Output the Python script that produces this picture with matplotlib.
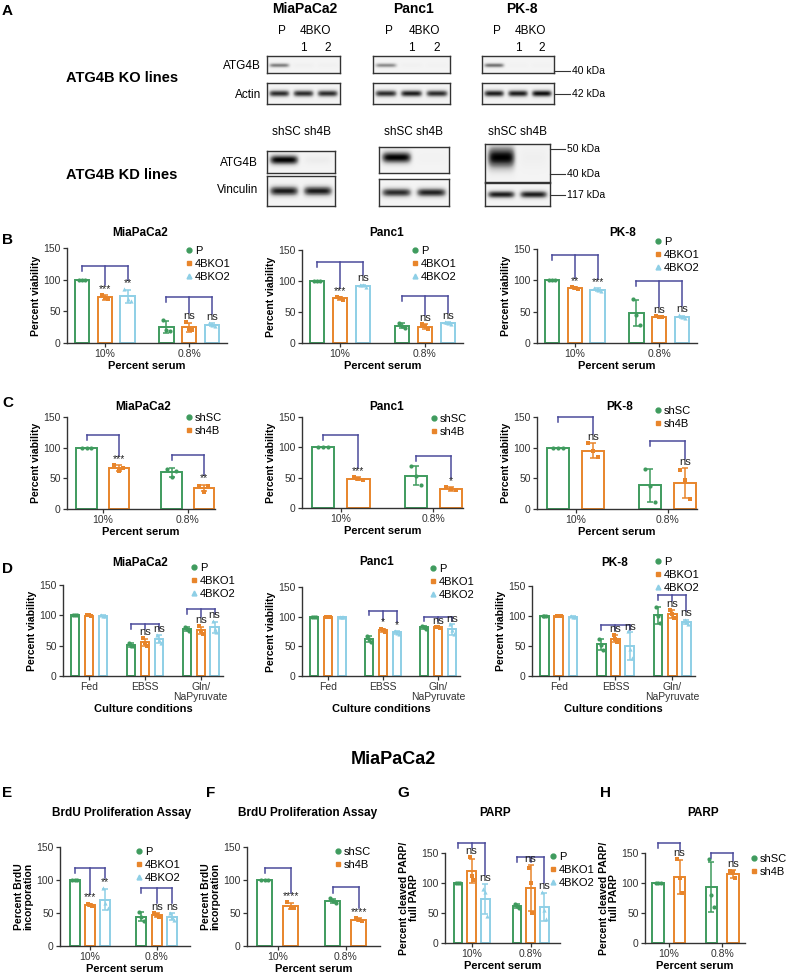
import numpy as np
import matplotlib.pyplot as plt
from matplotlib.lines import Line2D

plt.rcParams['font.family'] = ['Liberation Sans', 'DejaVu Sans']

W, H = 787, 976

GREEN = '#3f9b5e'
ORANGE = '#e8852b'
BLUE = '#8ecfe6'
BRACKET = '#4b4b9b'

# ---- A: western blot band levels ----
cell_lines = ['MiaPaCa2', 'Panc1', 'PK-8']
ko_atg4b = [[0.55, 0.04, 0.03], [0.5, 0.03, 0.02], [0.6, 0.02, 0.02]]
ko_actin = [[0.85, 0.85, 0.85], [0.85, 0.9, 0.85], [0.9, 0.9, 0.95]]
kd_atg4b = [[1.0, 0.06], [1.0, 0.02], [1.0, 0.04]]
kd_vinculin = [[0.9, 0.9], [0.85, 0.88], [0.9, 0.9]]

# ---- categories / series ----
serum = ['10%', '0.8%']
conditions = ['Fed', 'EBSS', 'Gln/\nNaPyruvate']
ko_names = ['P', '4BKO1', '4BKO2']
kd_names = ['shSC', 'sh4B']

# replicates: [series][group][replicate]
b_mia = [[[100, 100, 100], [36, 20, 19]], [[76, 71, 69], [33, 22, 20]], [[85, 70, 66], [31, 29, 27]]]
b_panc = [[[100, 100, 100], [33, 27, 24]], [[74, 72, 70], [30, 27, 22]], [[94, 93, 91], [34, 32, 30]]]
b_pk8 = [[[100, 100, 100], [70, 45, 28]], [[89, 88, 86], [43, 42, 41]], [[87, 85, 83], [44, 41, 40]]]
b_mia_sig = [['***', '**'], ['ns', 'ns']]
b_panc_sig = [['***', 'ns'], ['ns', 'ns']]
b_pk8_sig = [['**', '***'], ['ns', 'ns']]

c_mia = [[[100, 100, 100], [66, 52, 62]], [[72, 62, 67], [38, 28, 37]]]
c_panc = [[[100, 100, 100], [70, 52, 38]], [[51, 48, 46], [34, 31, 29]]]
c_pk8 = [[[100, 100, 100], [65, 38, 12]], [[108, 94, 84], [64, 47, 16]]]
c_mia_sig = [['***'], ['**']]
c_panc_sig = [['***'], ['*']]
c_pk8_sig = [['ns'], ['ns']]

d_mia = [[[100, 100, 100], [55, 50, 49], [80, 78, 74]],
         [[100, 100, 99], [62, 55, 50], [82, 74, 70]],
         [[100, 99, 99], [68, 60, 54], [90, 78, 72]]]
d_panc = [[[100, 100, 100], [68, 62, 58], [84, 82, 80]],
          [[100, 100, 100], [80, 77, 75], [83, 82, 81]],
          [[100, 99, 99], [76, 73, 71], [88, 78, 70]]]
d_pk8 = [[[100, 100, 100], [62, 52, 44], [115, 100, 88]],
         [[100, 100, 100], [68, 62, 56], [110, 103, 96]],
         [[100, 99, 98], [75, 45, 30], [94, 90, 86]]]
d_mia_sig = [None, ['ns', 'ns'], ['ns', 'ns']]
d_panc_sig = [None, ['*', '*'], ['ns', 'ns']]
d_pk8_sig = [None, ['ns', 'ns'], ['ns', 'ns']]

e_brdu = [[[100, 100, 100], [52, 44, 38]], [[64, 62, 60], [50, 47, 44]], [[88, 65, 58], [50, 44, 40]]]
f_brdu = [[[100, 100, 100], [72, 68, 65]], [[66, 58, 57], [42, 40, 38]]]
g_parp = [[[100, 100, 100], [65, 62, 59]], [[143, 112, 105], [125, 100, 50]], [[90, 85, 45], [85, 55, 40]]]
h_parp = [[[100, 100, 100], [140, 80, 60]], [[140, 108, 83], [120, 118, 108]]]
e_sig = [['***', '**'], ['ns', 'ns']]
f_sig = [['****'], ['****']]
g_sig = [['ns', 'ns'], ['ns', 'ns']]
h_sig = [['ns'], ['ns']]

fig = plt.figure(figsize=(W / 100, H / 100), dpi=100)


def px_rect(x0, y0, x1, y1):
    return [x0 / W, 1 - y1 / H, (x1 - x0) / W, (y1 - y0) / H]


def ftext(x, y, s, **kw):
    kw.setdefault('ha', 'center')
    kw.setdefault('va', 'center')
    fig.text(x / W, 1 - y / H, s, **kw)


def blot(rect, levels, thick=0.18, center=0.5, tail=0.0):
    ax = fig.add_axes(px_rect(*rect))
    yy = np.linspace(0, 1, 50)[:, None]
    xx = np.linspace(0, 1, 150)[None, :]
    n = len(levels)
    img = np.zeros((50, 150))
    for i, lv in enumerate(levels):
        xc = (i + 0.5) / n
        lane = np.exp(-((xx - xc) / (0.42 / n)) ** 6)
        band = np.exp(-((yy - center) / thick) ** 2)
        if tail > 0:
            band = np.maximum(band, np.where(yy > center, 0.7 * np.exp(-((yy - center) / tail) ** 2), 0))
        img += lv * lane * band
    ax.imshow(img, cmap='Greys', vmin=-0.1, vmax=1.0, aspect='auto', interpolation='bilinear')
    ax.set_xticks([])
    ax.set_yticks([])
    for sp in ax.spines.values():
        sp.set_linewidth(1.0)
        sp.set_color('#333333')


def kda(x0, x1, y, s):
    fig.add_artist(Line2D([x0 / W, x1 / W], [1 - y / H, 1 - y / H], color='#333333', lw=0.8))
    ftext(x1 + 2, y, s, ha='left', fontsize=7.5)


def bar_panel(rect, vals, names, cats, sig, br_h, xlim, width, offs, title, title_xy,
              legend_xy, ylabel, xlabel):
    ax = fig.add_axes(px_rect(*rect))
    colors = [GREEN, ORANGE, BLUE][:len(names)]
    markers = ['o', 's', '^'][:len(names)]
    tops = []
    for k in range(len(names)):
        pts = np.array(vals[k], dtype=float)
        means = pts.mean(axis=1)
        sds = pts.std(axis=1, ddof=1)
        xs = np.arange(len(cats)) + offs[k]
        ax.bar(xs, means, width, facecolor='white', edgecolor=colors[k], lw=1.4, zorder=2)
        ax.errorbar(xs, means, yerr=sds, fmt='none', ecolor=colors[k], elinewidth=1.1,
                    capsize=2.2, capthick=1.1, zorder=3)
        jit = np.array([-1, 0, 1]) * width * 0.22
        for g in range(len(cats)):
            ax.scatter(xs[g] + jit, pts[g], s=9, marker=markers[k], color=colors[k],
                       zorder=4, lw=0)
        tops.append(np.maximum(means + sds, pts.max(axis=1)))
    for g, labels in enumerate(sig):
        if labels is None:
            continue
        h = br_h[g]
        xc = g + offs[0]
        xe = g + offs[len(labels)]
        ax.plot([xc, xe], [h, h], color=BRACKET, lw=1.1, clip_on=False, zorder=5)
        ax.plot([xc, xc], [h, h - 8], color=BRACKET, lw=1.1, clip_on=False, zorder=5)
        for j, lab in enumerate(labels):
            xt = g + offs[j + 1]
            ly = min(tops[j + 1][g] + 2, h - 12)
            ax.plot([xt, xt], [h, min(h - 8, ly + 13)], color=BRACKET, lw=1.1,
                    clip_on=False, zorder=5)
            ax.text(xt, ly, lab, ha='center', va='bottom',
                    fontsize=7.5 if '*' in lab else 8, color='#222222', zorder=6)
    ax.set_xlim(*xlim)
    ax.set_ylim(0, 150)
    ax.set_yticks([0, 50, 100, 150])
    ax.set_xticks(range(len(cats)))
    ax.set_xticklabels(cats, fontsize=7.5, linespacing=1.0)
    ax.tick_params(axis='both', labelsize=7.5, length=3, width=0.9, pad=1.5, colors='#333333')
    for s in ['top', 'right']:
        ax.spines[s].set_visible(False)
    for s in ['left', 'bottom']:
        ax.spines[s].set_linewidth(1.0)
        ax.spines[s].set_color('#333333')
    ax.set_ylabel(ylabel, fontsize=7.5, fontweight='bold', labelpad=2, linespacing=1.0)
    ax.set_xlabel(xlabel, fontsize=8, fontweight='bold', labelpad=1)
    ftext(*title_xy, title, fontsize=8.5, fontweight='bold')
    handles = [Line2D([], [], marker=m, color=c, ls='none', markersize=3.5)
               for m, c in zip(markers, colors)]
    ax.legend(handles, names, loc='upper left',
              bbox_to_anchor=(legend_xy[0] / W, 1 - legend_xy[1] / H),
              bbox_transform=fig.transFigure, frameon=False, fontsize=8,
              handlelength=0.5, handletextpad=0.3, labelspacing=0.25,
              borderaxespad=0, borderpad=0)
    return ax


# ---------------- Panel A ----------------
ftext(2, 11, 'A', ha='left', fontsize=11, fontweight='bold')
ko_x = [(267, 340), (373, 450), (482, 554)]
kd_x = [(267, 335), (379, 449), (485, 550)]
kd_top = [151, 147, 144]
kd_bot = [173, 173, 182]
vin_top = [176, 179, 183]
title_x = [305, 413, 522]
for i, name in enumerate(cell_lines):
    ftext(title_x[i], 9, name, fontsize=10, fontweight='bold')
    x0, x1 = ko_x[i]
    blot((x0, 56, x1, 73), ko_atg4b[i], thick=0.13, center=0.55)
    blot((x0, 83, x1, 104), ko_actin[i], thick=0.16, center=0.5)
    w = (x1 - x0) / 3
    ftext(x0 + w * 0.5 + 3, 31, 'P', fontsize=8.5)
    ftext(x0 + w * 2, 31, '4BKO', fontsize=8.5)
    ftext(x0 + w * 1.5, 48, '1', fontsize=8.5)
    ftext(x0 + w * 2.5, 48, '2', fontsize=8.5)
    k0, k1 = kd_x[i]
    blot((k0, kd_top[i], k1, kd_bot[i]), kd_atg4b[i], thick=0.22 if i < 2 else 0.28,
         center=0.4 if i < 2 else 0.35, tail=0.0 if i < 2 else 0.3)
    blot((k0, vin_top[i], k1, 206), kd_vinculin[i], thick=0.16, center=0.5)
    ftext((k0 + k1) / 2, 132, 'shSC sh4B', fontsize=8.5)

ftext(261, 66, 'ATG4B', ha='right', fontsize=8.5)
ftext(261, 95, 'Actin', ha='right', fontsize=8.5)
ftext(258, 163, 'ATG4B', ha='right', fontsize=8.5)
ftext(258, 190, 'Vinculin', ha='right', fontsize=8.5)
ftext(66, 78, 'ATG4B KO lines', ha='left', fontsize=10.5, fontweight='bold')
ftext(66, 175, 'ATG4B KD lines', ha='left', fontsize=10.5, fontweight='bold')
kda(554, 570, 71, '40 kDa')
kda(554, 570, 94, '42 kDa')
kda(550, 565, 149, '50 kDa')
kda(550, 565, 174, '40 kDa')
kda(550, 565, 195, '117 kDa')

# ---------------- Panels B-D ----------------
via = 'Percent viability'
sers = 'Percent serum'
o3 = [-0.27, 0, 0.27]
o2 = [-0.19, 0.19]
od = [-0.25, 0, 0.25]

ftext(2, 240, 'B', ha='left', fontsize=11, fontweight='bold')
bar_panel((67, 248, 227, 343), b_mia, ko_names, serum, b_mia_sig, [122, 72], (-0.45, 1.45),
          0.17, o3, 'MiaPaCa2', (140, 233), (186, 246), via, sers)
bar_panel((302, 250, 463, 343), b_panc, ko_names, serum, b_panc_sig, [130, 75], (-0.45, 1.45),
          0.17, o3, 'Panc1', (387, 233), (412, 246), via, sers)
bar_panel((537, 249, 697, 343), b_pk8, ko_names, serum, b_pk8_sig, [140, 99], (-0.45, 1.45),
          0.17, o3, 'PK-8', (623, 233), (655, 237), via, sers)

ftext(2, 403, 'C', ha='left', fontsize=11, fontweight='bold')
bar_panel((67, 417, 215, 509), c_mia, kd_names, serum, c_mia_sig, [121, 88], (-0.42, 1.32),
          0.24, o2, 'MiaPaCa2', (143, 407), (186, 413), via, sers)
bar_panel((302, 417, 463, 508), c_panc, kd_names, serum, c_panc_sig, [120, 86], (-0.42, 1.32),
          0.24, o2, 'Panc1', (387, 407), (431, 414), via, sers)
bar_panel((537, 417, 697, 509), c_pk8, kd_names, serum, c_pk8_sig, [150, 111], (-0.42, 1.32),
          0.24, o2, 'PK-8', (620, 407), (655, 406), via, sers)

ftext(2, 569, 'D', ha='left', fontsize=11, fontweight='bold')
cult = 'Culture conditions'
bar_panel((63, 585, 223, 676), d_mia, ko_names, conditions, d_mia_sig, [0, 85, 110],
          (-0.47, 2.4), 0.15, od, 'MiaPaCa2', (140, 563), (191, 563), via, cult)
bar_panel((302, 587, 460, 676), d_panc, ko_names, conditions, d_panc_sig, [0, 110, 100],
          (-0.47, 2.4), 0.15, od, 'Panc1', (377, 562), (430, 564), via, cult)
bar_panel((532, 586, 695, 676), d_pk8, ko_names, conditions, d_pk8_sig, [0, 85, 135],
          (-0.47, 2.4), 0.15, od, 'PK-8', (615, 563), (655, 557), via, cult)

# ---------------- Panels E-H ----------------
ftext(393, 760, 'MiaPaCa2', fontsize=13, fontweight='bold')
for letter, x in zip('EFGH', [2, 206, 397, 600]):
    ftext(x, 793, letter, ha='left', fontsize=11, fontweight='bold')

brdu = 'Percent BrdU\nincorporation'
parp = 'Percent cleaved PARP/\nfull PARP'
bar_panel((60, 847, 190, 946), e_brdu, ko_names, serum, e_sig, [118, 88], (-0.45, 1.5),
          0.15, [-0.23, 0, 0.23], 'BrdU Proliferation Assay', (122, 813), (136, 847), brdu, sers)
bar_panel((247, 847, 380, 946), f_brdu, kd_names, serum, f_sig, [118, 89], (-0.45, 1.5),
          0.22, [-0.19, 0.19], 'BrdU Proliferation Assay', (308, 813), (335, 847), brdu, sers)
bar_panel((445, 853, 560, 943), g_parp, ko_names, serum, g_sig, [167, 143], (-0.45, 1.5),
          0.15, [-0.23, 0, 0.23], 'PARP', (495, 813), (550, 852), parp, sers)
bar_panel((645, 853, 745, 943), h_parp, kd_names, serum, h_sig, [167, 150], (-0.45, 1.43),
          0.22, [-0.2, 0.2], 'PARP', (703, 813), (751, 854), parp, sers)

fig.savefig('out.png', dpi=100)
